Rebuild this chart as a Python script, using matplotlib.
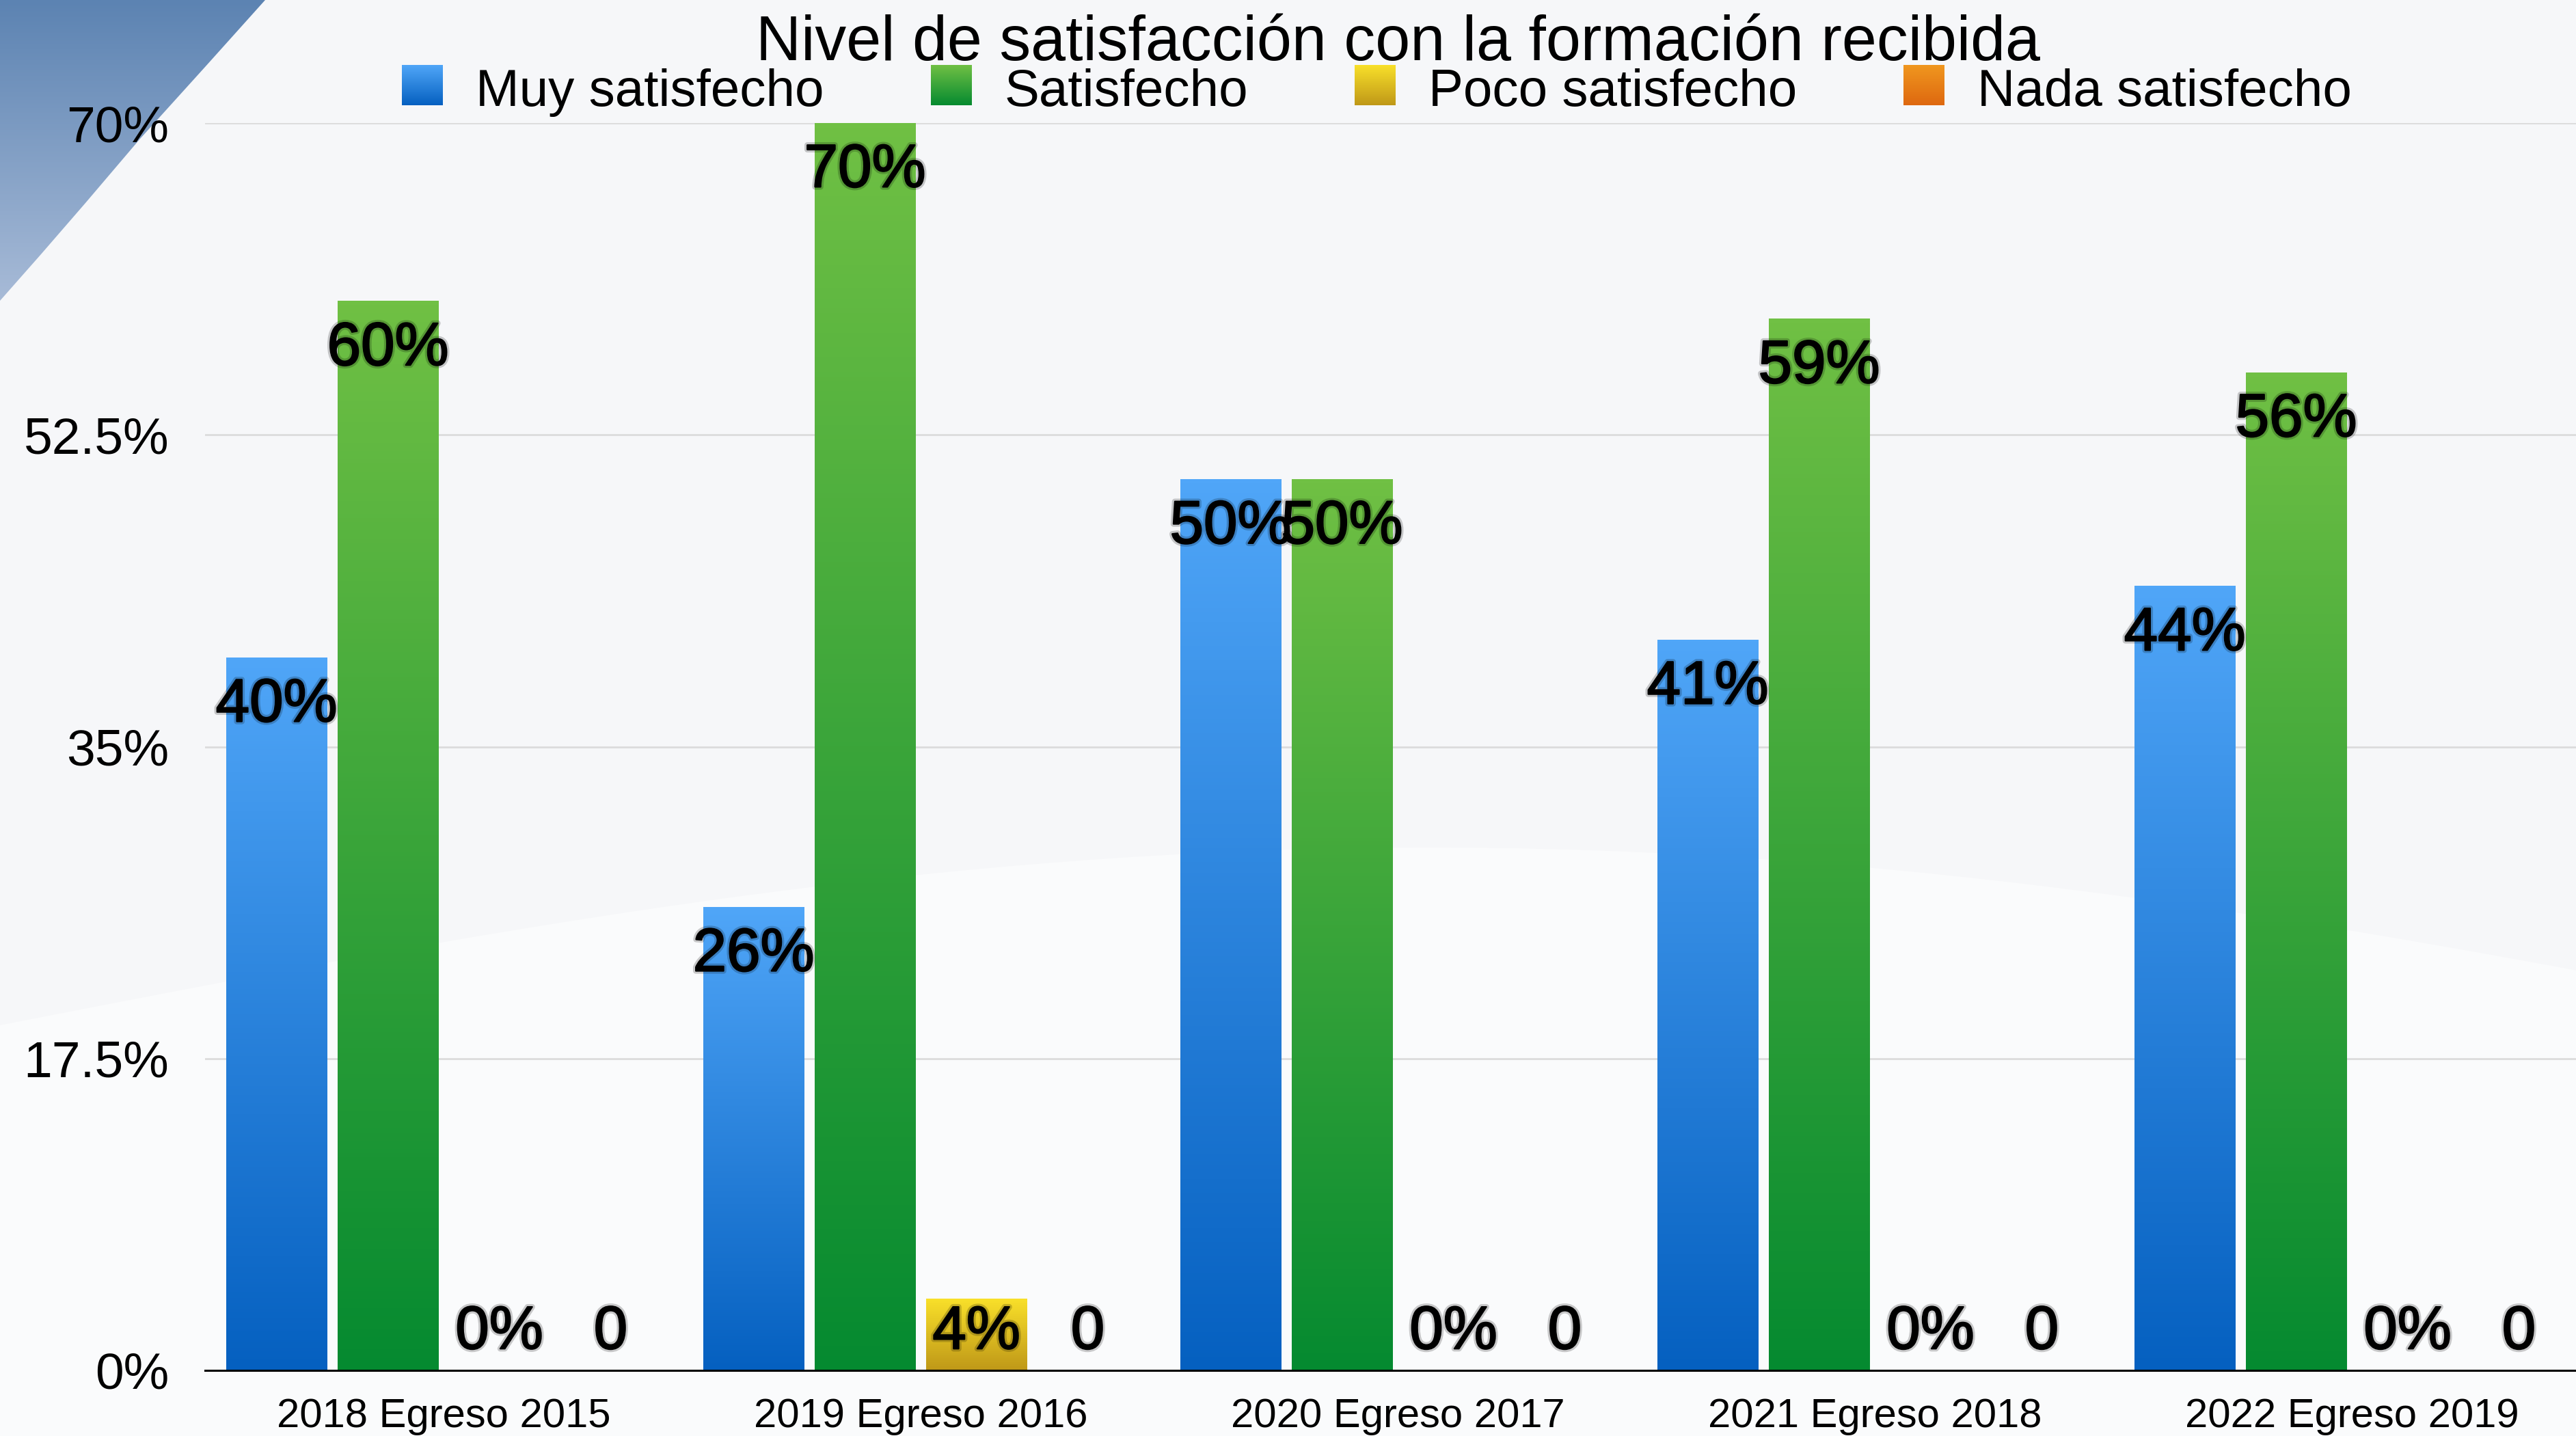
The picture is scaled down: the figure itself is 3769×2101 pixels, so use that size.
import matplotlib
matplotlib.use('Agg')
import matplotlib.pyplot as plt
import matplotlib.patheffects as pe
from matplotlib.patches import Polygon
import numpy as np

plt.rcParams['font.family'] = ['Liberation Sans', 'DejaVu Sans']

categories = ['2018 Egreso 2015', '2019 Egreso 2016', '2020 Egreso 2017',
              '2021 Egreso 2018', '2022 Egreso 2019']
series_names = ['Muy satisfecho', 'Satisfecho', 'Poco satisfecho', 'Nada satisfecho']
muy = [40, 26, 50, 41, 44]
satisfecho = [60, 70, 50, 59, 56]
poco = [0, 4, 0, 0, 0]
nada = [0, 0, 0, 0, 0]
muy_labels = ['40%', '26%', '50%', '41%', '44%']
satisfecho_labels = ['60%', '70%', '50%', '59%', '56%']
poco_labels = ['0%', '4%', '0%', '0%', '0%']
nada_labels = ['0', '0', '0', '0', '0']
y_ticks = [0, 17.5, 35, 52.5, 70]
y_tick_labels = ['0%', '17.5%', '35%', '52.5%', '70%']
title = 'Nivel de satisfacción con la formación recibida'

# gradient (top, bottom) per series
grad_colors = [('#50a6f8', '#0560c0'),
               ('#70c044', '#058a30'),
               ('#f9e02a', '#bf9818'),
               ('#f0971f', '#de6810')]

W, H = 3769, 2101
fig = plt.figure(figsize=(W / 100, H / 100), dpi=100)
fig.patch.set_facecolor('#f6f7f9')


def gradient(top, bottom, n=256):
    c0 = np.array(matplotlib.colors.to_rgb(top))
    c1 = np.array(matplotlib.colors.to_rgb(bottom))
    t = np.linspace(0, 1, n)[:, None]
    return (c0 * (1 - t) + c1 * t)[:, None, :]


# background decoration (blue corner + faint swoosh)
bg = fig.add_axes([0, 0, 1, 1], zorder=-5)
bg.axis('off')
s = np.linspace(0, 1, 60)
curve_x = s * W
curve_y = 1500 - 260 * np.sin(s * np.pi * 0.9)
swoosh = Polygon(np.column_stack([np.r_[curve_x, W, 0], np.r_[curve_y, H, H]]),
                 closed=True, facecolor='#ffffff', alpha=0.5, edgecolor='none')
bg.add_patch(swoosh)
corner = Polygon([(0, 0), (388, 0), (300, 98), (205, 203), (125, 297), (60, 372), (0, 440)],
                 closed=True, facecolor='none', edgecolor='none')
bg.add_patch(corner)
im = bg.imshow(gradient('#5c83b2', '#a9bcd8'), extent=(0, 400, 450, 0), aspect='auto')
im.set_clip_path(corner)
bg.set_xlim(0, W)
bg.set_ylim(H, 0)

# main axes
left, right, y0, y70 = 300, 3790, 2005, 180
ax = fig.add_axes([left / W, 1 - y0 / H, (right - left) / W, (y0 - y70) / H])
ax.patch.set_alpha(0)

x = np.arange(len(categories))
step = 0.2335
width = 0.212
all_values = [muy, satisfecho, poco, nada]
all_labels = [muy_labels, satisfecho_labels, poco_labels, nada_labels]

for i, (vals, labs) in enumerate(zip(all_values, all_labels)):
    pos = x + (i - 1.5) * step
    bars = ax.bar(pos, vals, width, facecolor='none', edgecolor='none', zorder=2)
    g = gradient(*grad_colors[i])
    for b, v, lab in zip(bars, vals, labs):
        if v > 0:
            ax.imshow(g, extent=(b.get_x(), b.get_x() + b.get_width(), 0, v),
                      aspect='auto', origin='upper', zorder=2)
        ax.text(b.get_x() + b.get_width() / 2, max(v - 2.7, 2.1), lab,
                ha='center', va='center', fontsize=64, color='black', zorder=5,
                path_effects=[pe.Stroke(linewidth=6, foreground='black', alpha=0.2),
                              pe.Stroke(linewidth=1.6, foreground='black'),
                              pe.Normal()])

ax.set_aspect('auto')
ax.set_xlim(-0.5, len(categories) - 0.5)
ax.set_ylim(0, 70)
ax.set_xticks(x)
ax.set_xticklabels(categories, fontsize=43)
ax.set_yticks(y_ticks)
ax.set_yticklabels(y_tick_labels, fontsize=54)
ax.tick_params(axis='both', length=0)
ax.tick_params(axis='x', pad=29)
ax.tick_params(axis='y', pad=38)
ax.yaxis.grid(True, color='#dcdcdc', linewidth=2)
ax.set_axisbelow(True)
for sp in ['left', 'right', 'top']:
    ax.spines[sp].set_visible(False)
ax.spines['bottom'].set_color('black')
ax.spines['bottom'].set_linewidth(2.2)
ax.spines['bottom'].set_zorder(3)

# title
fig.text(2046 / W, 1 - 88 / H, title, ha='center', va='baseline', fontsize=66)

# legend
renderer = fig.canvas.get_renderer()
lx = 588
for name, (c_top, c_bot) in zip(series_names, grad_colors):
    sw = fig.add_axes([lx / W, 1 - 154 / H, 60 / W, 59 / H])
    sw.imshow(gradient(c_top, c_bot), aspect='auto')
    sw.axis('off')
    t = fig.text((lx + 108) / W, 1 - 155 / H, name, ha='left', va='baseline', fontsize=55)
    tw = t.get_window_extent(renderer).width
    lx = lx + 108 + tw + 156

fig.savefig('out.png', dpi=100, facecolor=fig.get_facecolor())
